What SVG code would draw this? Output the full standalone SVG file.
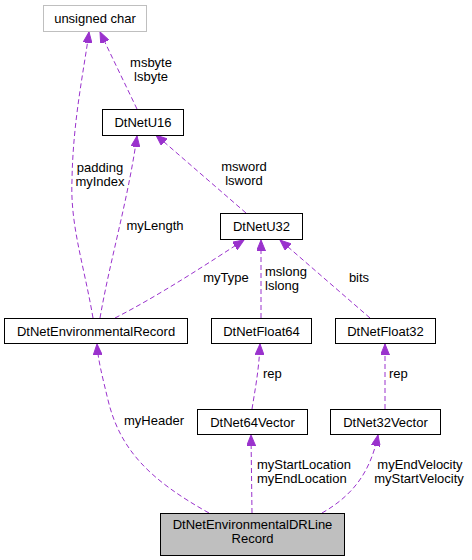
<svg xmlns="http://www.w3.org/2000/svg" width="472" height="560" viewBox="0 0 472 560">
<defs>
<marker id="ah" markerUnits="userSpaceOnUse" markerWidth="12" markerHeight="9" refX="11" refY="4.5" orient="auto">
<path d="M0,0 L11,4.5 L0,9 z" fill="#9a32cd" stroke="#9a32cd" stroke-width="1"/>
</marker>
<style>
.n rect{fill:#fff;stroke:#000;stroke-width:1}
.n text,.l text{font-family:"Liberation Sans",Arial,sans-serif;font-size:13px;fill:#000}
.n text{text-anchor:middle}
.e{fill:none;stroke:#9a32cd;stroke-width:1;stroke-dasharray:5,3;marker-end:url(#ah)}
</style>
</defs>
<rect width="472" height="560" fill="#fff"/>
<g id="connectors">
<path class="e" d="M93,318 C84,265 70,225 72,180 C73,120 84,70 89,32"/>
<path class="e" d="M137,109 L100,32"/>
<path class="e" d="M100,318 C110,260 128,200 137,136"/>
<path class="e" d="M246,213 L156,135"/>
<path class="e" d="M115,318 C160,295 210,262 244,240"/>
<path class="e" d="M261,318 L261,240"/>
<path class="e" d="M370,318 L280,240"/>
<path class="e" d="M252,409 C255,390 259,370 260,344"/>
<path class="e" d="M385,409 L385,344"/>
<path class="e" d="M209,513 C150,480 120,450 108,400 C102,375 98,360 97,344"/>
<path class="e" d="M252,513 L251,435"/>
<path class="e" d="M322,513 C350,497 370,475 378,435"/>
</g>
<g class="l" id="labels">
<text x="100" y="172" text-anchor="middle">padding</text>
<text x="100" y="186" text-anchor="middle">myIndex</text>
<text x="151" y="67" text-anchor="middle">msbyte</text>
<text x="151" y="81" text-anchor="middle">lsbyte</text>
<text x="155" y="230" text-anchor="middle">myLength</text>
<text x="244" y="171" text-anchor="middle">msword</text>
<text x="244" y="185" text-anchor="middle">lsword</text>
<text x="226" y="282" text-anchor="middle">myType</text>
<text x="265" y="276">mslong</text>
<text x="265" y="290">lslong</text>
<text x="359" y="282" text-anchor="middle">bits</text>
<text x="263" y="378">rep</text>
<text x="389" y="378">rep</text>
<text x="154" y="425" text-anchor="middle">myHeader</text>
<text x="257" y="469">myStartLocation</text>
<text x="257" y="483">myEndLocation</text>
<text x="420" y="469" text-anchor="middle">myEndVelocity</text>
<text x="419" y="483" text-anchor="middle">myStartVelocity</text>
</g>
<g class="n" id="node-unsigned-char"><rect x="43.5" y="5.5" width="103" height="26" style="stroke:#bfbfbf"/><text x="95" y="23">unsigned char</text></g>
<g class="n" id="node-DtNetU16"><rect x="102.5" y="109.5" width="81" height="26"/><text x="143" y="127">DtNetU16</text></g>
<g class="n" id="node-DtNetU32"><rect x="220.5" y="213.5" width="82" height="26"/><text x="261.5" y="231">DtNetU32</text></g>
<g class="n" id="node-DtNetFloat64"><rect x="211.5" y="318.5" width="100" height="25"/><text x="261.5" y="335.5">DtNetFloat64</text></g>
<g class="n" id="node-DtNetFloat32"><rect x="335.5" y="318.5" width="100" height="25"/><text x="385.5" y="335.5">DtNetFloat32</text></g>
<g class="n" id="node-DtNetEnvironmentalRecord"><rect x="4.5" y="318.5" width="183" height="25"/><text x="96" y="335.5">DtNetEnvironmentalRecord</text></g>
<g class="n" id="node-DtNet64Vector"><rect x="197.5" y="409.5" width="110" height="25"/><text x="252.5" y="426.5">DtNet64Vector</text></g>
<g class="n" id="node-DtNet32Vector"><rect x="330.5" y="409.5" width="110" height="25"/><text x="385.5" y="426.5">DtNet32Vector</text></g>
<g class="n" id="node-DtNetEnvironmentalDRLineRecord"><rect x="160.5" y="513.5" width="184" height="42" style="fill:#bfbfbf"/><text x="252.5" y="529">DtNetEnvironmentalDRLine</text><text x="252.5" y="543">Record</text></g>
</svg>
